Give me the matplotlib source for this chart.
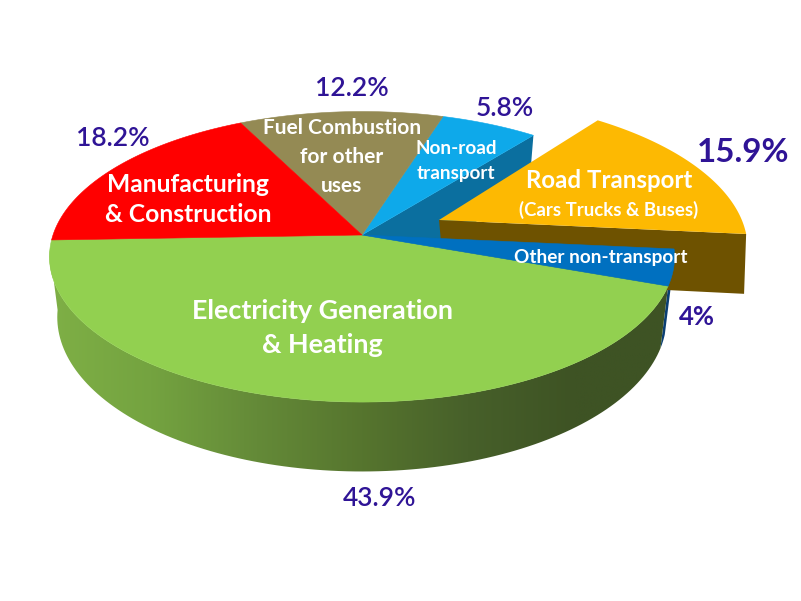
import matplotlib
matplotlib.use('Agg')
import matplotlib.pyplot as plt
from matplotlib.colors import LinearSegmentedColormap
from matplotlib.patches import Polygon
import numpy as np

plt.rcParams['font.family'] = ['Lato', 'DejaVu Sans']

# slices, counter clockwise starting at the left edge of the pie
names = ['Electricity', 'Other non-transport', 'Road', 'Non-road', 'Fuel', 'Manufacturing']
shares = [43.9, 4.0, 15.9, 5.8, 12.2, 18.2]
top_colors = ['#92d050', '#0070c0', '#fdb902', '#0ea9ea', '#948a54', '#ff0000']
percent_labels = ['43.9%', '4%', '15.9%', '5.8%', '12.2%', '18.2%']

side_stops = ['#7fb046', '#74a340', '#648a38', '#56752e', '#47602a', '#3e5324', '#3e5324']

CX, CY = 362, 235
RX, RY = 309, 142
PERSP = 0.15
DEPTH = 59
START = 182
EXPLODE = (77, -15)
ROAD_SCALE = 0.98
ROAD_SHEAR = 0.093
PURPLE = '#2f1496'


def project(angle, radius=1.0, lower=False):
    a = np.radians(angle)
    u, v = radius * np.cos(a), radius * np.sin(a)
    w = 1 + PERSP * v
    x = RX * u / w
    y = -RY * v / w
    if lower:
        x = x * 0.975
        y = y + DEPTH / w
    return np.column_stack([CX + x, CY + y])


def arc(a0, a1, lower=False):
    return project(np.linspace(a0, a1, 120), lower=lower)


def wedge(a0, a1):
    centre = project(np.array([0.0]), radius=0.0)
    return np.vstack([centre, arc(a0, a1)])


def pull_out(points):
    # move a part of the pie outwards, slightly narrowed and leaning left
    points = np.array(points, dtype=float)
    dx = points[:, 0] - CX
    dy = points[:, 1] - CY
    points[:, 0] = CX + dx * ROAD_SCALE + dy * ROAD_SHEAR + EXPLODE[0]
    points[:, 1] = points[:, 1] + EXPLODE[1]
    return points


angles = START + np.concatenate([[0], np.cumsum(shares)]) * 3.6
edges = {n: (angles[i], angles[i + 1]) for i, n in enumerate(names)}

fig = plt.figure(figsize=(8.01, 6.01), dpi=100)
ax = fig.add_axes([0, 0, 1, 1])
ax.axis('off')

# outer wall of the main pie, shaded left to right
a_end = edges['Electricity'][1]
wall = np.vstack([arc(START + 4, a_end), arc(START + 4, a_end, lower=True)[::-1]])
cmap = LinearSegmentedColormap.from_list('side', side_stops)
img = ax.imshow(np.linspace(0, 1, 256)[None, :], cmap=cmap, aspect='auto',
                extent=[45, 680, 480, 230], zorder=1)
img.set_clip_path(Polygon(wall, transform=ax.transData))

# thin dark blue wall of the small slice
b0, b1 = edges['Other non-transport']
sliver = np.vstack([arc(b0, b0 + 5), arc(b0, b0 + 5, lower=True)[::-1]])
ax.add_patch(Polygon(sliver, fc='#0b3f73', ec='none', zorder=0.9))

# cut face behind the gap left by the pulled out slice
r0, r1 = edges['Road']
centre = project(np.array([0.0]), radius=0.0)
centre_low = project(np.array([0.0]), radius=0.0, lower=True)
outer = project(np.array([r1]))
outer_low = project(np.array([r1]), lower=True)
ax.add_patch(Polygon(np.vstack([centre, outer, outer_low, centre_low]),
                     fc='#0b6f9f', ec='none', zorder=2))

# pulled out slice
road_right = project(np.array([r0]))
road_right_low = project(np.array([r0]), lower=True)
face = pull_out(np.vstack([centre, road_right, road_right_low, centre_low]))
ax.add_patch(Polygon(face, fc='#6e5200', ec='none', zorder=3))
ax.add_patch(Polygon(pull_out(wedge(r0, r1)), fc=top_colors[2], ec='none', zorder=4))

# top faces of the remaining slices
for name, color in zip(names, top_colors):
    if name == 'Road':
        continue
    a0, a1 = edges[name]
    ax.add_patch(Polygon(wedge(a0, a1), fc=color, ec=color, lw=0.4, zorder=5))

ax.set_xlim(0, 801)
ax.set_ylim(601, 0)

white = dict(color='white', fontweight='bold', ha='center', va='center', zorder=6)
ax.text(322, 311, 'Electricity Generation', fontsize=19.4, **white)
ax.text(322, 345, '& Heating', fontsize=19.4, **white)
ax.text(188, 184, 'Manufacturing', fontsize=17.7, **white)
ax.text(188, 215, '& Construction', fontsize=17.7, **white)
ax.text(342, 128, 'Fuel Combustion', fontsize=15, **white)
ax.text(342, 157, 'for other', fontsize=15, **white)
ax.text(342, 186, 'uses', fontsize=15, **white)
ax.text(456, 149, 'Non-road', fontsize=13.6, **white)
ax.text(456, 173, 'transport', fontsize=13.6, **white)
ax.text(609, 181, 'Road Transport', fontsize=17.3, **white)
ax.text(609, 210, '(Cars Trucks & Buses)', fontsize=13.4, **white)
ax.text(601, 257, 'Other non-transport', fontsize=13.7, **white)

pct = dict(color=PURPLE, ha='center', va='center', zorder=6)
ax.text(380, 498, percent_labels[0], fontsize=19, fontweight='semibold', **pct)
ax.text(697, 317, percent_labels[1], fontsize=18.5, fontweight='bold', **pct)
ax.text(743, 152, percent_labels[2], fontsize=23.8, fontweight='bold', **pct)
ax.text(505, 108, percent_labels[3], fontsize=19, fontweight='semibold', **pct)
ax.text(352, 89, percent_labels[4], fontsize=19, fontweight='semibold', **pct)
ax.text(113, 139, percent_labels[5], fontsize=19, fontweight='semibold', **pct)

fig.savefig('out.png', dpi=100, facecolor='white')
